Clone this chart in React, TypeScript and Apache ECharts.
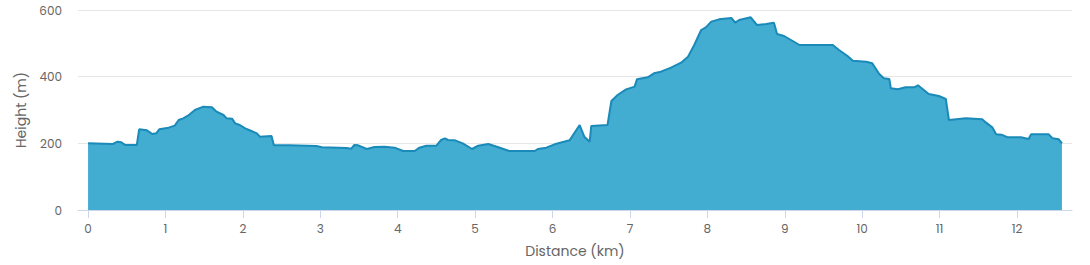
import React, { useEffect, useRef } from "react";
import * as echarts from "echarts";

const distances = [
  0, 0.32, 0.38, 0.43, 0.48, 0.63, 0.66, 0.76, 0.83, 0.88, 0.92, 1.04, 1.12, 1.17, 1.23, 1.29, 1.38, 1.49,
  1.60, 1.66, 1.75, 1.79, 1.86, 1.9, 1.96, 2.03, 2.11, 2.18, 2.22, 2.37, 2.4, 2.6, 2.95, 3.02, 3.34, 3.4,
  3.44, 3.49, 3.6, 3.7, 3.83, 3.96, 4.07, 4.22, 4.28, 4.37, 4.5, 4.56, 4.61, 4.65, 4.74, 4.84, 4.96, 5.04,
  5.17, 5.29, 5.44, 5.77, 5.81, 5.92, 6.05, 6.22, 6.35, 6.41, 6.48, 6.5, 6.71, 6.76, 6.84, 6.95, 7.06,
  7.09, 7.23, 7.31, 7.4, 7.53, 7.66, 7.75, 7.83, 7.92, 7.98, 8.05, 8.15, 8.31, 8.36, 8.41, 8.56, 8.64,
  8.76, 8.86, 8.9, 8.99, 9.08, 9.19, 9.62, 9.7, 9.81, 9.88, 10.05, 10.13, 10.22, 10.28, 10.35, 10.37,
  10.46, 10.56, 10.67, 10.72, 10.86, 10.99, 11.08, 11.12, 11.34, 11.55, 11.6, 11.68, 11.73, 11.8, 11.88,
  12.05, 12.15, 12.18, 12.41, 12.46, 12.54, 12.58,
];
const heights = [
  200, 198, 205, 203, 195, 195, 242, 239, 228, 230, 242, 247, 253, 270, 275, 283, 300, 310,
  308, 295, 285, 275, 274, 260, 255, 245, 237, 230, 220, 222, 194, 194, 192, 188, 186, 184,
  195, 194, 183, 189, 190, 187, 177, 177, 187, 193, 193, 210, 215, 210, 209, 200, 183, 193,
  198, 189, 177, 177, 183, 187, 199, 209, 255, 220, 205, 252, 255, 327, 345, 362, 370,
  392, 398, 410, 415, 427, 442, 460, 495, 540, 548, 565, 572, 576, 562, 570, 578, 555,
  558, 562, 528, 522, 510, 495, 495, 480, 462, 448, 445, 440, 408, 395, 393, 365,
  362, 368, 368, 374, 348, 342, 333, 270, 275, 272, 262, 248, 227, 226, 218,
  218, 213, 227, 227, 215, 212, 200,
];
const xTicks = [0, 1, 2, 3, 4, 5, 6, 7, 8, 9, 10, 11, 12];
const yTicks = [0, 200, 400, 600];

export default function App() {
  const ref = useRef<HTMLDivElement>(null);
  useEffect(() => {
    if (!ref.current) return;
    const chart = echarts.init(ref.current, undefined, { renderer: "svg" });
    const font = "Poppins, 'Noto Sans', sans-serif";
    chart.setOption({
      animation: false,
      backgroundColor: "#ffffff",
      grid: { left: 78, right: 18, top: 10, bottom: 55, containLabel: false },
      xAxis: {
        type: "value",
        min: -0.13,
        max: 12.71,
        interval: 1,
        name: "Distance (km)",
        nameLocation: "middle",
        nameGap: 34,
        nameTextStyle: { color: "#666666", fontSize: 14, fontFamily: font },
        axisLine: { show: true, lineStyle: { color: "#ccd6eb", width: 1 } },
        axisTick: { show: true, length: 8, lineStyle: { color: "#ccd6eb" }, customValues: xTicks },
        axisLabel: { color: "#666666", fontSize: 12, fontFamily: font, margin: 12, customValues: xTicks },
        splitLine: { show: false },
      },
      yAxis: {
        type: "value",
        min: 0,
        max: 600,
        interval: 200,
        name: "Height (m)",
        nameLocation: "middle",
        nameGap: 45,
        nameTextStyle: { color: "#666666", fontSize: 14, fontFamily: font },
        axisLine: { show: false },
        axisTick: { show: false },
        axisLabel: { color: "#666666", fontSize: 12, fontFamily: font, margin: 16, customValues: yTicks },
        splitLine: { show: true, lineStyle: { color: "#e6e6e6", width: 1 } },
      },
      series: [
        {
          type: "line",
          data: distances.map((d, i) => [d, heights[i]]),
          showSymbol: false,
          symbol: "none",
          lineStyle: { color: "#1a8ab9", width: 2 },
          itemStyle: { color: "#1a8ab9" },
          areaStyle: { color: "#42acd1", opacity: 1 },
        },
      ],
    });
    return () => chart.dispose();
  }, []);
  return <div ref={ref} style={{ width: 1090, height: 265, position: "absolute", left: 0, top: 0 }} />;
}
